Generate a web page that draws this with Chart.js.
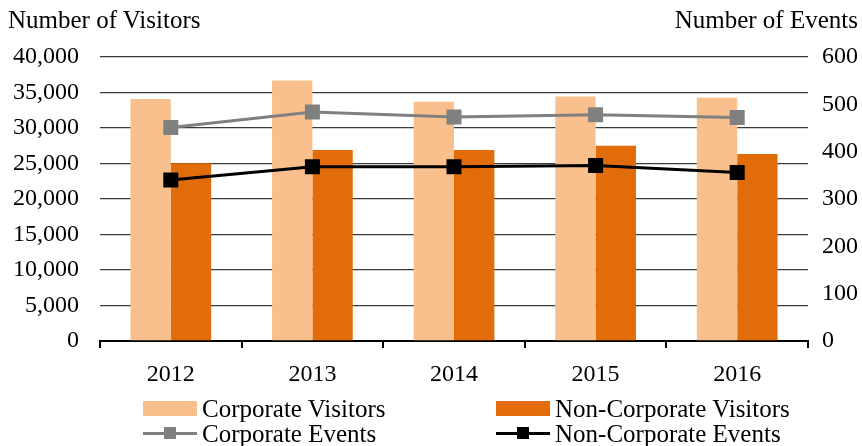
<!DOCTYPE html>
<html><head><meta charset="utf-8">
<script src="https://cdn.jsdelivr.net/npm/chart.js@4/dist/chart.umd.min.js"></script>
<style>
html,body{margin:0;padding:0;background:#fff;}
#wrap{position:relative;width:862px;height:446px;font-family:"Liberation Serif",serif;color:#000;}
canvas{position:absolute;left:0;top:0;}
.t{position:absolute;font-size:25px;line-height:25px;white-space:nowrap;}
.lg{position:absolute;font-size:25px;line-height:25px;white-space:nowrap;display:flex;align-items:center;}
.sw{display:inline-block;width:54px;height:15px;margin-right:5px;}
.ls{position:relative;display:inline-block;width:54px;height:15px;margin-right:5px;}
.ls .ln{position:absolute;left:0;right:0;top:6px;height:3px;}
.ls .mk{position:absolute;left:21px;top:1px;width:12px;height:12px;}
</style></head>
<body><div id="wrap">
<canvas id="c" width="862" height="446"></canvas>
<div class="t" style="left:8px;top:7px;">Number of Visitors</div>
<div class="t" style="right:4px;top:7px;">Number of Events</div>
<div class="lg" style="left:143px;top:396px;"><span class="sw" style="background:#F9C08E"></span>Corporate Visitors</div>
<div class="lg" style="left:496px;top:396px;"><span class="sw" style="background:#E36C0A"></span>Non-Corporate Visitors</div>
<div class="lg" style="left:143px;top:421px;"><span class="ls"><span class="ln" style="background:#808080"></span><span class="mk" style="background:#808080"></span></span>Corporate Events</div>
<div class="lg" style="left:496px;top:421px;"><span class="ls"><span class="ln" style="background:#000"></span><span class="mk" style="background:#000"></span></span>Non-Corporate Events</div>
</div>
<script>
const years = ["2012","2013","2014","2015","2016"];
const corporateVisitors = [34100, 36700, 33700, 34450, 34250];
const nonCorporateVisitors = [25050, 26900, 26900, 27500, 26350];
const corporateEvents = [451, 484, 473, 478, 472];
const nonCorporateEvents = [340, 368, 368, 371, 356];

const FONT = {family:"Liberation Serif", size:24};
new Chart(document.getElementById('c'), {
  data: {
    labels: years,
    datasets: [
      {type:'bar', label:'Corporate Visitors', data:corporateVisitors, yAxisID:'y',
       backgroundColor:'#F9C08E', barPercentage:1, categoryPercentage:0.57, order:2},
      {type:'bar', label:'Non-Corporate Visitors', data:nonCorporateVisitors, yAxisID:'y',
       backgroundColor:'#E36C0A', barPercentage:1, categoryPercentage:0.57, order:2},
      {type:'line', label:'Corporate Events', data:corporateEvents, yAxisID:'y2',
       borderColor:'#808080', backgroundColor:'#808080', borderWidth:3,
       pointStyle:'rect', pointRadius:8.5, pointHoverRadius:8.5, order:1, tension:0},
      {type:'line', label:'Non-Corporate Events', data:nonCorporateEvents, yAxisID:'y2',
       borderColor:'#000', backgroundColor:'#000', borderWidth:3,
       pointStyle:'rect', pointRadius:8.5, pointHoverRadius:8.5, order:0, tension:0}
    ]
  },
  options: {
    responsive:false, animation:false, devicePixelRatio:1,
    layout:{padding:{top:57, left:0, right:0, bottom:0}},
    plugins:{legend:{display:false}, tooltip:{enabled:false}},
    scales:{
      x:{offset:true,
         grid:{display:true, drawOnChartArea:false, offset:true, tickLength:7, color:'#000', lineWidth:2},
         border:{display:true, color:'#000', width:2},
         ticks:{font:FONT, color:'#000', padding:12},
         afterFit:s=>{s.height=105;}},
      y:{position:'left', min:0, max:40000,
         ticks:{stepSize:5000, font:FONT, color:'#000', padding:21,
                callback:v=>v.toLocaleString('en-US')},
         grid:{color:'#3a3a3a', lineWidth:1.3, drawTicks:false},
         border:{display:false},
         afterFit:s=>{s.width=100;}},
      y2:{position:'right', min:0, max:600,
         ticks:{stepSize:100, font:FONT, color:'#000', padding:14},
         grid:{display:false, drawTicks:false},
         border:{display:false},
         afterFit:s=>{s.width=54;}}
    }
  }
});
</script>
</body></html>
